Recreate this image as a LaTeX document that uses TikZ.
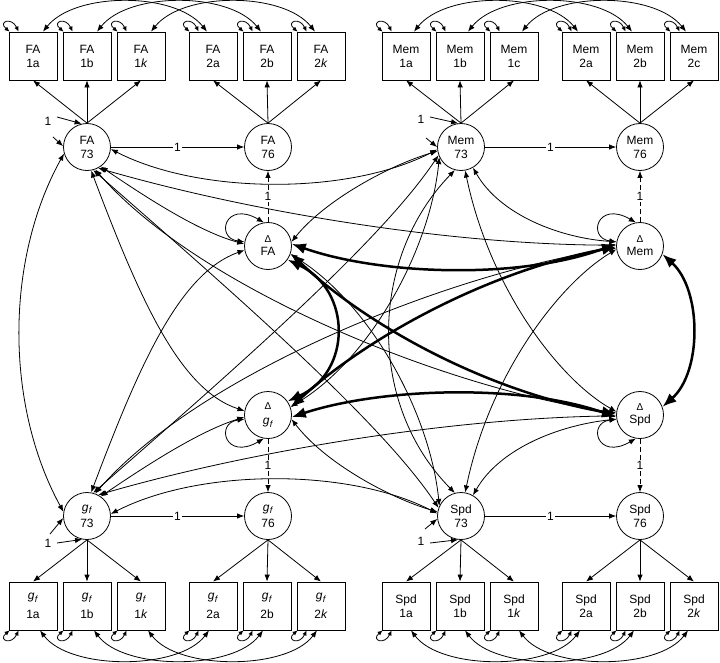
\documentclass[tikz,border=0pt]{standalone}
\usepackage{fontspec}
\setmainfont{Liberation Sans}
\usetikzlibrary{arrows.meta,calc}
\newcommand{\gff}{\textit{g}\kern0.2pt\raisebox{-2.5pt}{\fontsize{9}{9}\selectfont\textit{f}}}
\newcommand{\dlt}{{\fontsize{10}{10}\selectfont Δ}}
\begin{document}
\begin{tikzpicture}[x=1pt,y=1pt,
  font=\fontsize{12}{14}\selectfont,
  box/.style={draw,line width=0.8pt,minimum width=48pt,minimum height=48pt,inner sep=0pt,align=center},
  lat/.style={draw,circle,line width=0.8pt,minimum size=47pt,inner sep=0pt,align=center},
  dbl/.style={line width=0.8pt,{Latex[length=7pt,width=5.5pt]}-{Latex[length=7pt,width=5.5pt]}},
  sml/.style={line width=0.8pt,{Latex[length=5pt,width=4.5pt]}-{Latex[length=5pt,width=4.5pt]}},
  sgl/.style={line width=0.8pt,-{Latex[length=7pt,width=5.5pt]}},
  big/.style={line width=2.5pt,{Latex[length=14pt,width=11pt]}-{Latex[length=14pt,width=11pt]}},
  lbl/.style={fill=white,inner sep=1.5pt},
  dsh/.style={sgl,dash pattern=on 5pt off 3pt},
]
\useasboundingbox (0,0) rectangle (720,-662);
% ---------- boxes top
\node[box] (FA1a) at (33,-56) {FA\\1a};
\node[box] (FA1b) at (87,-56) {FA\\1b};
\node[box] (FA1k) at (141,-56) {FA\\1\textit{k}};
\node[box] (FA2a) at (213,-56) {FA\\2a};
\node[box] (FA2b) at (267,-56) {FA\\2b};
\node[box] (FA2k) at (321,-56) {FA\\2\textit{k}};
\node[box] (Mem1a) at (406,-56) {Mem\\1a};
\node[box] (Mem1b) at (460,-56) {Mem\\1b};
\node[box] (Mem1c) at (514,-56) {Mem\\1c};
\node[box] (Mem2a) at (586,-56) {Mem\\2a};
\node[box] (Mem2b) at (640,-56) {Mem\\2b};
\node[box] (Mem2c) at (694,-56) {Mem\\2c};
% ---------- boxes bottom
\node[box] (gf1a) at (33,-606) {\gff\\[5pt]1a};
\node[box] (gf1b) at (87,-606) {\gff\\[5pt]1b};
\node[box] (gf1k) at (141,-606) {\gff\\[5pt]1\textit{k}};
\node[box] (gf2a) at (213,-606) {\gff\\[5pt]2a};
\node[box] (gf2b) at (267,-606) {\gff\\[5pt]2b};
\node[box] (gf2k) at (321,-606) {\gff\\[5pt]2\textit{k}};
\node[box] (Spd1a) at (406,-606) {Spd\\1a};
\node[box] (Spd1b) at (460,-606) {Spd\\1b};
\node[box] (Spd1k) at (514,-606) {Spd\\1\textit{k}};
\node[box] (Spd2a) at (586,-606) {Spd\\2a};
\node[box] (Spd2b) at (640,-606) {Spd\\2b};
\node[box] (Spd2k) at (694,-606) {Spd\\2\textit{k}};
% ---------- latents
\node[lat] (FA73) at (87,-147) {FA\\73};
\node[lat] (FA76) at (268,-147) {FA\\76};
\node[lat] (Mem73) at (461,-147) {Mem\\73};
\node[lat] (Mem76) at (640,-147) {Mem\\76};
\node[lat] (DFA) at (268,-246) {\dlt\\[-1pt]FA};
\node[lat] (DMem) at (640,-246) {\dlt\\[-1pt]Mem};
\node[lat] (Dgf) at (268,-415) {\dlt\\[1pt]\gff};
\node[lat] (DSpd) at (640,-415) {\dlt\\[-1pt]Spd};
\node[lat] (gf73) at (87,-516) {\gff\\[2pt]73};
\node[lat] (gf76) at (268,-516) {\gff\\[2pt]76};
\node[lat] (Spd73) at (461,-516) {Spd\\73};
\node[lat] (Spd76) at (640,-516) {Spd\\76};
% ---------- loadings
\foreach \b in {FA1a,FA1b,FA1k} \draw[sgl] (FA73.north) -- (\b.south);
\foreach \b in {FA2a,FA2b,FA2k} \draw[sgl] (FA76.north) -- (\b.south);
\foreach \b in {Mem1a,Mem1b,Mem1c} \draw[sgl] (Mem73.north) -- (\b.south);
\foreach \b in {Mem2a,Mem2b,Mem2c} \draw[sgl] (Mem76.north) -- (\b.south);
\foreach \b in {gf1a,gf1b,gf1k} \draw[sgl] (gf73.south) -- (\b.north);
\foreach \b in {gf2a,gf2b,gf2k} \draw[sgl] (gf76.south) -- (\b.north);
\foreach \b in {Spd1a,Spd1b,Spd1k} \draw[sgl] (Spd73.south) -- (\b.north);
\foreach \b in {Spd2a,Spd2b,Spd2k} \draw[sgl] (Spd76.south) -- (\b.north);
% ---------- box self loops
\foreach \b in {FA1a,FA1b,FA1k,FA2a,FA2b,FA2k,Mem1a,Mem1b,Mem1c,Mem2a,Mem2b,Mem2c}
  \draw[sml] ($(\b.north west)+(1,0)$) .. controls ($(\b.north west)+(-11,10)$) and ($(\b.north west)+(3,15)$) .. ($(\b.north west)+(10,0)$);
\foreach \b in {gf1a,gf1b,gf1k,gf2a,gf2b,gf2k,Spd1a,Spd1b,Spd1k,Spd2a,Spd2b,Spd2k}
  \draw[sml] ($(\b.south west)+(1,0)$) .. controls ($(\b.south west)+(-11,-10)$) and ($(\b.south west)+(3,-15)$) .. ($(\b.south west)+(10,0)$);
% ---------- residual correlations
\foreach \p/\q in {FA1a/FA2a,FA1b/FA2b,FA1k/FA2k}
  \draw[dbl] ($(\p.north)+(10,0)$) .. controls +(32,40) and +(-32,40) .. ($(\q.north)+(-6,0)$);
\foreach \p/\q in {Mem1a/Mem2a,Mem1b/Mem2b,Mem1c/Mem2c}
  \draw[dbl] ($(\p.north)+(8,0)$) .. controls +(32,40) and +(-32,40) .. ($(\q.north)+(-8,0)$);
\foreach \p/\q in {gf1a/gf2a,gf1b/gf2b,gf1k/gf2k}
  \draw[dbl] ($(\p.south)+(7,0)$) .. controls +(30,-40) and +(-30,-40) .. ($(\q.south)+(-4,0)$);
\foreach \p/\q in {Spd1a/Spd2a,Spd1b/Spd2b,Spd1k/Spd2k}
  \draw[dbl] ($(\p.south)+(5,0)$) .. controls +(30,-40) and +(-30,-40) .. ($(\q.south)+(-6,0)$);
% ---------- 73 -> 76
\draw[sgl] (FA73) -- node[lbl]{1} (FA76);
\draw[sgl] (Mem73) -- node[lbl]{1} (Mem76);
\draw[sgl] (gf73) -- node[lbl]{1} (gf76);
\draw[sgl] (Spd73) -- node[lbl]{1} (Spd76);
\draw[dsh] (DFA) -- node[lbl]{1} (FA76);
\draw[dsh] (DMem) -- node[lbl]{1} (Mem76);
\draw[dsh] (Dgf) -- node[lbl]{1} (gf76);
\draw[dsh] (DSpd) -- node[lbl]{1} (Spd76);
% ---------- delta self loops
\foreach \n/\a/\c/\s in {DFA/170/100/1,DMem/170/100/1,Dgf/190/260/-1,DSpd/190/260/-1}
  \draw[dbl] (\n.\a) .. controls ($(\n)+(-53,{8*\s})$) and ($(\n)+(-43,{46*\s})$) .. (\n.\c);
% ---------- fixed variances and disturbances
\node (oFA) at (48,-121) {1};
\coordinate (oFAs) at (57,-117);
\draw[sgl] (oFAs) -- (FA73.103);
\coordinate (rFA) at (53,-137);
\draw[sgl] (rFA) -- (FA73.178);
\node (ogf) at (48,-543) {1};
\coordinate (ogfs) at (57,-543);
\draw[sgl] (ogfs) -- (gf73.-102);
\coordinate (rgf) at (50,-534);
\draw[sgl] (rgf) -- (gf73.185);
\node (oMem) at (421,-119) {1};
\coordinate (oMems) at (430,-117);
\draw[sgl] (oMems) -- (Mem73.97);
\coordinate (rMem) at (426,-138);
\draw[sgl] (rMem) -- (Mem73.180);
\node (oSpd) at (421,-541) {1};
\coordinate (oSpds) at (430,-543);
\draw[sgl] (oSpds) -- (Spd73.-97);
\coordinate (rSpd) at (425,-529);
\draw[sgl] (rSpd) -- (Spd73.187);
% ---------- correlations among 73 levels
\draw[dbl] (FA73.196) .. controls (5,-260) and (5,-405) .. (gf73.170);
\draw[dbl] (Mem73.-105) .. controls (368,-260) and (368,-405) .. (Spd73.105);
\draw[dbl] (FA73.-5) .. controls (200,-195) and (350,-195) .. (Mem73.186);
\draw[dbl] (gf73.5) .. controls (200,-468) and (350,-468) .. (Spd73.174);
\draw[dbl] (FA73.-75) .. controls (230,-290) and (380,-420) .. (Spd73.160);
\draw[dbl] (gf73.75) .. controls (230,-373) and (380,-243) .. (Mem73.200);
% ---------- levels with changes
\draw[dbl] (FA73.-55) .. controls (150,-200) and (200,-232) .. (DFA.175);
\draw[dbl] (FA73.-62) .. controls (250,-212) and (450,-245) .. (DMem.178);
\draw[dbl] (FA73.-80) .. controls (140,-300) and (180,-390) .. (Dgf.170);
\draw[dbl] (FA73.-70) .. controls (200,-290) and (450,-390) .. (DSpd.175);
\draw[dbl] (gf73.55) .. controls (150,-463) and (200,-431) .. (Dgf.185);
\draw[dbl] (gf73.62) .. controls (250,-451) and (450,-418) .. (DSpd.182);
\draw[dbl] (gf73.80) .. controls (140,-363) and (180,-273) .. (DFA.190);
\draw[dbl] (gf73.70) .. controls (200,-373) and (450,-273) .. (DMem.185);
\draw[dbl] (Mem73.-60) .. controls (500,-215) and (560,-238) .. (DMem.170);
\draw[dbl] (Mem73.-80) .. controls (490,-290) and (560,-380) .. (DSpd.172);
\draw[dbl] (Mem73.190) .. controls (390,-165) and (325,-200) .. (DFA.10);
\draw[dbl] (Mem73.205) .. controls (430,-250) and (370,-360) .. (Dgf.20);
\draw[dbl] (Spd73.60) .. controls (500,-448) and (560,-425) .. (DSpd.190);
\draw[dbl] (Spd73.80) .. controls (490,-373) and (560,-283) .. (DMem.188);
\draw[dbl] (Spd73.170) .. controls (390,-498) and (325,-463) .. (Dgf.-10);
\draw[dbl] (Spd73.155) .. controls (430,-413) and (370,-303) .. (DFA.-20);
% ---------- correlations among changes
\draw[big] (DFA.5) .. controls (380,-275) and (520,-280) .. (DMem.175);
\draw[big] (Dgf.-5) .. controls (380,-388) and (520,-383) .. (DSpd.185);
\draw[big] (DFA.-35) .. controls (352,-290) and (352,-372) .. (Dgf.35);
\draw[big] (DMem.-20) .. controls (702,-290) and (702,-372) .. (DSpd.20);
\draw[big] (DFA.-18) .. controls (360,-320) and (480,-390) .. (DSpd.178);
\draw[big] (Dgf.18) .. controls (360,-343) and (480,-273) .. (DMem.182);
\end{tikzpicture}
\end{document}
